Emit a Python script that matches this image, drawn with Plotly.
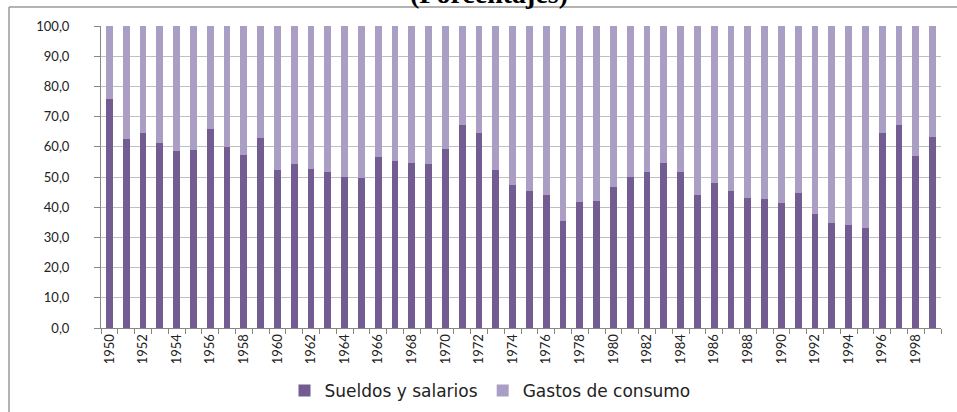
import plotly.graph_objects as go

years = list(range(1950, 2000))
sueldos = [75.8, 62.7, 64.7, 61.3, 58.5, 59.0, 65.8, 59.9, 57.3, 63.0,
           52.3, 54.3, 52.8, 51.8, 50.1, 49.7, 56.6, 55.3, 54.7, 54.3,
           59.3, 67.2, 64.7, 52.3, 47.4, 45.4, 44.0, 35.4, 41.6, 42.1,
           46.8, 49.9, 51.5, 54.7, 51.5, 44.1, 48.1, 45.4, 42.9, 42.7,
           41.5, 44.6, 37.6, 34.8, 34.2, 33.2, 64.5, 67.2, 56.8, 63.2]
gastos = [round(100 - v, 1) for v in sueldos]
tick_years = list(range(1950, 2000, 2))
y_ticks = list(range(0, 101, 10))

W, H = 957, 412
L, R, T, B = 101, 16, 26, 84
pw, ph = W - L - R, H - T - B

def px_x(p):
    return (p - L) / pw

def px_y(p):
    return 1 + (T - p) / ph

fig = go.Figure()
fig.add_trace(go.Bar(x=years, y=sueldos, name="Sueldos y salarios",
                     marker=dict(color="#725C91", line=dict(width=0)), width=0.4))
fig.add_trace(go.Bar(x=years, y=gastos, name="Gastos de consumo",
                     marker=dict(color="#AA9EC4", line=dict(width=0)), width=0.4))

border = dict(color="#9a9a9a", width=1.5)
fig.update_layout(
    barmode="stack",
    width=W, height=H,
    margin=dict(l=L, r=R, t=T, b=B, autoexpand=False),
    paper_bgcolor="white", plot_bgcolor="white",
    separators=",.",
    font=dict(family="Lato, Open Sans, sans-serif", size=13, color="#000000"),
    showlegend=True,
    legend=dict(orientation="h", x=px_x(490), xanchor="center",
                y=px_y(391), yanchor="middle",
                font=dict(family="DejaVu Sans, sans-serif", size=17, color="#222222"),
                traceorder="normal", itemwidth=30, tracegroupgap=0),
    shapes=[
        dict(type="line", xref="paper", yref="paper",
             x0=px_x(9), x1=px_x(9), y0=px_y(7), y1=px_y(420), line=border),
        dict(type="line", xref="paper", yref="paper",
             x0=px_x(9), x1=px_x(960), y0=px_y(7), y1=px_y(7), line=border),
    ],
    annotations=[dict(text="<b>(Porcentajes)</b>", xref="paper", yref="paper",
                      x=px_x(489), y=px_y(-6), xanchor="center", yanchor="middle",
                      showarrow=False,
                      font=dict(family="Liberation Serif, Times New Roman, serif",
                                size=28, color="#000000"))],
)

fig.update_xaxes(
    range=[1949.5, 1999.5],
    tickmode="array", tickvals=tick_years, ticktext=[str(y) for y in tick_years],
    tickangle=-90, ticks="", showgrid=False,
    showline=True, linecolor="#868686", linewidth=1,
    tickfont=dict(size=13, color="#222222"),
    minor=dict(tickmode="linear", tick0=1949.5, dtick=1, ticks="outside",
               ticklen=5, tickcolor="#868686", showgrid=False),
)
fig.update_yaxes(
    range=[0, 100], tickmode="array", tickvals=y_ticks, tickformat=".1f",
    showgrid=True, gridcolor="#bfbfbf", gridwidth=1,
    showline=True, linecolor="#868686", linewidth=1,
    ticks="outside", ticklen=6, tickcolor="#868686",
    ticklabelstandoff=22,
    tickfont=dict(size=13, color="#222222"),
    zeroline=False,
)

fig.write_html("out.html", config={"displayModeBar": False},
               post_script="document.body.style.margin='0';document.body.style.overflow='hidden';")
